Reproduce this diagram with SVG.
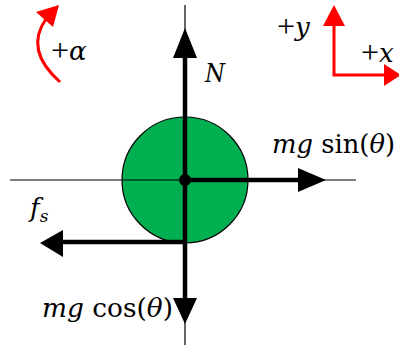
<svg xmlns="http://www.w3.org/2000/svg" width="399" height="345" viewBox="0 0 399 345">
<style>
.axis{stroke:#000;stroke-width:1.2;fill:none}
.force{stroke:#000;stroke-width:4.5;fill:none}
.red{stroke:#ff0000;stroke-width:3;fill:none}
text{font-family:"DejaVu Serif","Liberation Serif",serif;font-size:26px;fill:#000}
.it{font-style:italic}
.plus{font-family:"Liberation Serif","DejaVu Serif",serif;font-size:32px}
</style>
<rect width="399" height="345" fill="#fff"/>
<g id="axes">
<line class="axis" x1="185" y1="5" x2="185" y2="345"/>
<line class="axis" x1="10" y1="180" x2="356" y2="180"/>
</g>
<g id="body">
<circle cx="185" cy="180" r="63" fill="#00b050" stroke="#000" stroke-width="1.2"/>
<line class="axis" x1="122" y1="180" x2="248" y2="180"/>
</g>
<g id="connectors">
<line class="force" x1="185" y1="180" x2="185" y2="55"/>
<polygon points="185,28 173,58 197,58" fill="#000"/>
<line class="force" x1="185" y1="180" x2="302" y2="180"/>
<polygon points="326,180 298,168 298,192" fill="#000"/>
<line class="force" x1="185" y1="180" x2="185" y2="302"/>
<polygon points="185,324 173,298 197,298" fill="#000"/>
<line class="force" x1="185" y1="242" x2="60" y2="242"/>
<polygon points="40,243 63,230 63,257" fill="#000"/>
<circle cx="185" cy="180" r="6" fill="#000"/>
</g>
<g id="labels">
<text x="205" y="82" class="it" textLength="20" lengthAdjust="spacingAndGlyphs">N</text>
<text x="272" y="153" textLength="123" lengthAdjust="spacingAndGlyphs"><tspan class="it">mg</tspan> sin(<tspan class="it">θ</tspan>)</text>
<text x="42" y="317" textLength="131" lengthAdjust="spacingAndGlyphs"><tspan class="it">mg</tspan> cos(<tspan class="it">θ</tspan>)</text>
<text x="30" y="217" class="it">f<tspan font-size="17" dy="5">s</tspan></text>
</g>
<g id="rotation">
<path class="red" d="M60,82 Q24,50 46,19"/>
<polygon points="59,5 36,12 53,27" fill="#ff0000"/>
<text x="51" y="61" class="plus">+</text>
<text x="69" y="60" class="it">α</text>
</g>
<g id="coords">
<path class="red" d="M334,22 V75 H388"/>
<polygon points="334,5 323,26 345,26" fill="#ff0000"/>
<polygon points="401,75 384,64 384,86" fill="#ff0000"/>
<text x="277" y="37" class="plus">+</text>
<text x="295" y="36" class="it">y</text>
<text x="361" y="63" class="plus">+</text>
<text x="379" y="62" class="it">x</text>
</g>
</svg>
